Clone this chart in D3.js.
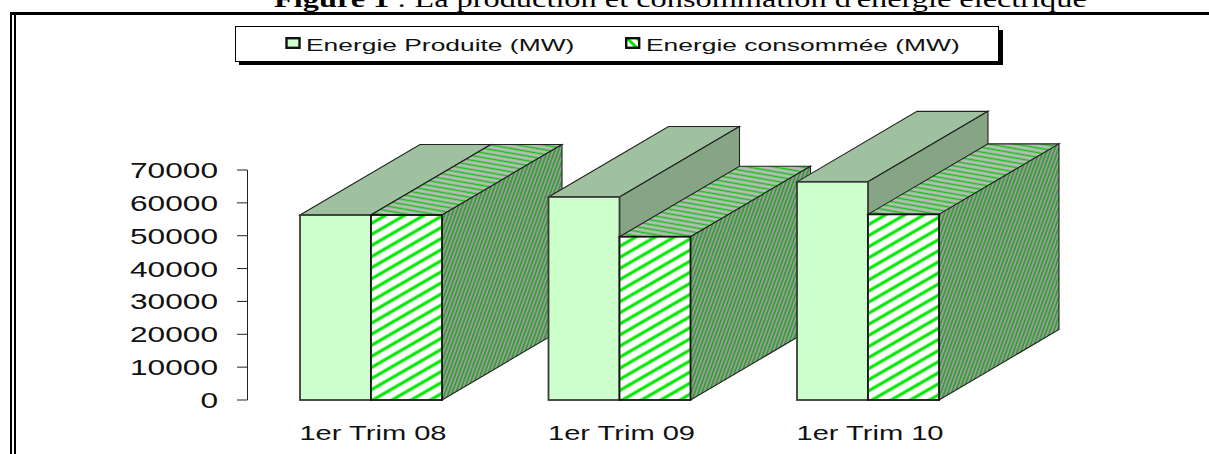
<!DOCTYPE html>
<html><head><meta charset="utf-8">
<script src="https://cdn.jsdelivr.net/npm/d3@7/dist/d3.min.js"></script>
<style>html,body{margin:0;padding:0;background:#fff;overflow:hidden}svg{display:block}</style>
</head><body><svg id="c" width="1209" height="454"></svg>
<script>
const categories = ["1er Trim 08", "1er Trim 09", "1er Trim 10"];
const seriesNames = ["Energie Produite (MW)", "Energie consommée (MW)"];
const produced = [56300, 61800, 66400];
const consumed = [56300, 49700, 56500];
const yTicks = [0, 10000, 20000, 30000, 40000, 50000, 60000, 70000];
const titleBold = "Figure 1";
const titleRest = " : La production et consommation d'énergie électrique";

const svg = d3.select("#c");
const defs = svg.append("defs");
function hatch(id, bg, fg, w, sw, angle) {
  const p = defs.append("pattern").attr("id", id).attr("patternUnits", "userSpaceOnUse")
    .attr("width", w).attr("height", w).attr("patternTransform", `rotate(${angle})`);
  p.append("rect").attr("width", w).attr("height", w).attr("fill", bg);
  p.append("rect").attr("y", (w - sw) / 2).attr("width", w).attr("height", sw).attr("fill", fg);
}
hatch("hFront", "#ffffff", "#00e800", 9.6, 3.1, -30);
hatch("hTop", "#b8bcb8", "#14c414", 4.6, 1.5, 10);
hatch("hSide", "#9c9c9c", "#06a006", 3.4, 1.2, -70);
hatch("hLeg", "#ffffff", "#00e800", 7, 3, 45);

const y = d3.scaleLinear().domain([0, 70000]).range([400, 170]);
const x0 = d3.scaleBand().domain(categories).range([300, 939]).paddingInner(0.4286).paddingOuter(0);
const x1 = d3.scaleBand().domain([0, 1]).range([0, x0.bandwidth()]);
const depth = { dx: 120, dy: -70.5 };

const poly = pts => pts.map(p => p.join(",")).join(" ");
function bar(g, value, cat, s, front, top, side, frontStroke) {
  const l = x0(cat) + x1(s), r = l + x1.bandwidth(), t = y(value), b = y(0);
  const {dx, dy} = depth;
  g.append("polygon").attr("points", poly([[l,t],[r,t],[r+dx,t+dy],[l+dx,t+dy]]))
    .attr("fill", top).attr("stroke", "#222").attr("stroke-width", 1.1);
  g.append("polygon").attr("points", poly([[r,t],[r+dx,t+dy],[r+dx,b+dy],[r,b]]))
    .attr("fill", side).attr("stroke", "#222").attr("stroke-width", 1.1);
  g.append("rect").attr("x", l).attr("y", t).attr("width", r - l).attr("height", b - t)
    .attr("fill", front).attr("stroke", frontStroke).attr("stroke-width", 1.8);
}
const plot = svg.append("g");
categories.forEach((c, i) => {
  const g = plot.append("g");
  bar(g, produced[i], c, 0, "#ccffcc", "#9fc19f", "#85a585", "#3a3a3a");
  bar(g, consumed[i], c, 1, "url(#hFront)", "url(#hTop)", "url(#hSide)", "#111");
});

function wideText(parent, str, xa, ya, anchor, size, wide) {
  return parent.append("text").attr("transform", `translate(${xa},${ya}) scale(${wide},1)`)
    .attr("text-anchor", anchor).attr("font-family", "Liberation Sans, Arial, sans-serif")
    .attr("font-size", size).attr("fill", "#111").text(str);
}
const axis = svg.append("g").call(g => {
  g.append("line").attr("x1", 247.5).attr("x2", 247.5).attr("y1", y(70000)).attr("y2", y(0)).attr("stroke", "#222");
  yTicks.forEach(t => {
    g.append("line").attr("x1", 237).attr("x2", 247.5).attr("y1", y(t)).attr("y2", y(t)).attr("stroke", "#222");
    wideText(g, d3.format("d")(t), 218, y(t) + 8, "end", 22, 1.44);
  });
});
categories.forEach(c => {
  wideText(svg, c, x0(c) + x0.bandwidth() / 2 + 2, 440, "middle", 20.5, 1.42);
});

// frame
svg.append("rect").attr("x", 10).attr("y", 12).attr("width", 1199).attr("height", 3).attr("fill", "#000");
svg.append("rect").attr("x", 10).attr("y", 12).attr("width", 2).attr("height", 442).attr("fill", "#000");
svg.append("rect").attr("x", 14).attr("y", 15).attr("width", 2).attr("height", 439).attr("fill", "#000");

// title
svg.append("text").attr("transform", "translate(274,7) scale(1.348,1)").attr("font-family", "Liberation Serif, Times New Roman, serif")
  .attr("font-size", 24).attr("fill", "#000")
  .call(t => { t.append("tspan").attr("font-weight", "bold").text(titleBold); t.append("tspan").text(titleRest); });

// legend
const lg = svg.append("g");
lg.append("rect").attr("x", 239).attr("y", 30).attr("width", 764).attr("height", 35).attr("fill", "#000");
lg.append("rect").attr("x", 235.5).attr("y", 26.5).attr("width", 763).attr("height", 35).attr("fill", "#fff").attr("stroke", "#000").attr("stroke-width", 1);
[[286.5, "#ccffcc", 306], [626.2, "url(#hLeg)", 646]].forEach((d, i) => {
  lg.append("rect").attr("x", d[0]).attr("y", 38.2).attr("width", 13).attr("height", 9.6).attr("fill", d[1]).attr("stroke", "#111").attr("stroke-width", 2.4);
  wideText(lg, seriesNames[i], d[2], 50.5, "start", 16.5, 1.6);
});
</script></body></html>
